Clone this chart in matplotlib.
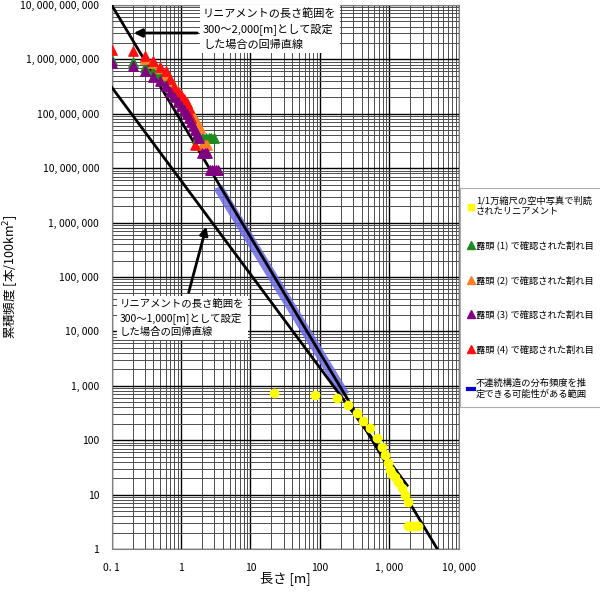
import matplotlib
matplotlib.use("Agg")
import matplotlib.pyplot as plt
from matplotlib.patches import FancyArrowPatch
from matplotlib.ticker import FuncFormatter, LogLocator, NullFormatter
from matplotlib.lines import Line2D

plt.rcParams['font.family'] = ['Noto Sans CJK JP', 'DejaVu Sans']

# ---- data ----
# outcrop fractures, cumulative frequency per 100 km2
x_out1 = [0.1, 0.2, 0.3, 0.4, 0.5, 0.6, 0.7, 0.8, 0.9, 1.0, 1.2, 1.4, 1.7, 1.9, 2.1, 2.3, 2.5, 2.7, 3.0]
y_out1 = [9.8e8, 9.1e8, 7.2e8, 6.2e8, 4.9e8, 4.2e8, 3.3e8, 2.6e8, 2.1e8, 1.7e8, 1.26e8, 8.9e7,
          3.6e7, 3.6e7, 3.6e7, 3.6e7, 3.6e7, 3.6e7, 3.6e7]

x_out2 = [0.3, 0.4, 0.5, 0.6, 0.7, 0.8, 0.9, 1.0, 1.1, 1.2, 1.3, 1.4, 1.5, 1.7, 1.9, 2.0, 2.2, 2.4]
y_out2 = [1.0e9, 8.5e8, 6.8e8, 5.2e8, 4.0e8, 3.2e8, 2.6e8, 2.2e8, 1.9e8, 1.6e8, 1.3e8, 1.1e8,
          9.3e7, 7.1e7, 5.5e7, 2.7e7, 2.7e7, 2.7e7]

x_out3 = [0.1, 0.2, 0.3, 0.4, 0.5, 0.6, 0.7, 0.8, 0.9, 1.0, 1.1, 1.2, 1.3, 1.4, 1.5, 1.6, 1.7,
          1.8, 2.0, 2.2, 2.4, 2.6, 2.8, 3.0, 3.2, 3.4]
y_out3 = [8.5e8, 7.6e8, 6.2e8, 4.8e8, 4.0e8, 3.2e8, 2.5e8, 2.0e8, 1.66e8, 1.4e8, 1.17e8, 1.0e8,
          8.3e7, 7.1e7, 5.9e7, 5.0e7, 4.2e7, 3.6e7, 1.9e7, 1.9e7, 1.9e7, 9.3e6, 9.3e6, 9.3e6,
          9.3e6, 9.3e6]

x_out4 = [0.1, 0.2, 0.3, 0.4, 0.5, 0.6, 0.7, 0.8, 0.9, 1.0, 1.1, 1.2, 1.3, 1.4, 1.6]
y_out4 = [1.48e9, 1.41e9, 1.15e9, 9.3e8, 7.2e8, 6.2e8, 4.4e8, 3.1e8, 2.5e8, 2.2e8, 1.9e8,
          1.6e8, 1.26e8, 8.3e7, 2.7e7]

# lineaments from 1/10,000 aerial photos
x_lin = [22, 85, 178, 256, 347, 417, 525, 670, 795, 875, 950, 1030, 1100, 1220, 1350, 1540,
         1700, 1830, 1850, 2000, 2200, 2400, 2550]
y_lin = [740, 680, 600, 445, 316, 225, 167, 110, 75, 54, 38, 28, 24, 21, 17, 13, 10, 7.3,
         2.7, 2.7, 2.7, 2.7, 2.7]

# regression lines
reg2000_x = [0.1, 4900]
reg2000_y = [1e10, 1]
reg1000_x = [0.1, 1800]
reg1000_y = [3.1e8, 14.8]

# range where the distribution can be estimated
range_x = [3.4, 229]
range_y = [4.5e6, 676]

labels = ["1/1万縮尺の空中写真で判読\nされたリニアメント",
          "露頭 (1) で確認された割れ目",
          "露頭 (2) で確認された割れ目",
          "露頭 (3) で確認された割れ目",
          "露頭 (4) で確認された割れ目",
          "不連続構造の分布頻度を推\n定できる可能性がある範囲"]
colors = ["#ffff00", "#1f8a1f", "#ff7f27", "#800080", "#ff1010", "#0000cc"]

# ---- figure ----
fig = plt.figure(figsize=(6, 5.92), dpi=100)
ax = fig.add_axes([0.186, 0.0726, 0.5787, 0.919])
ax.set_xscale("log")
ax.set_yscale("log")
ax.set_xlim(0.1, 10000)
ax.set_ylim(1, 1e10)

ax.xaxis.set_major_locator(LogLocator(base=10, numticks=20))
ax.yaxis.set_major_locator(LogLocator(base=10, numticks=20))
ax.xaxis.set_minor_locator(LogLocator(base=10, subs=range(2, 10), numticks=20))
ax.yaxis.set_minor_locator(LogLocator(base=10, subs=range(2, 10), numticks=20))
ax.xaxis.set_minor_formatter(NullFormatter())
ax.yaxis.set_minor_formatter(NullFormatter())
ax.grid(which="major", color="black", lw=1.0, zorder=0)
ax.grid(which="minor", color="0.3", lw=0.7, zorder=0)
ax.set_axisbelow(True)
ax.tick_params(which="both", length=0, labelsize=7.5)
ax.tick_params(axis="y", pad=9)
ax.tick_params(axis="x", pad=10)


def fmt(v, pos):
    if v < 1:
        return "0. 1"
    return f"{v:,.0f}".replace(",", ", ")


ax.xaxis.set_major_formatter(FuncFormatter(fmt))
ax.yaxis.set_major_formatter(FuncFormatter(fmt))
for sp in ax.spines.values():
    sp.set_color("0.5")
    sp.set_linewidth(0.8)

ax.plot(range_x, range_y, color="#6b6be6", lw=7, alpha=0.85, solid_capstyle="butt", zorder=2)
ax.plot(reg2000_x, reg2000_y, color="black", lw=2, zorder=3)
ax.plot(reg1000_x, reg1000_y, color="black", lw=2, zorder=3)

ax.scatter(x_lin, y_lin, marker="o", s=36, color=colors[0], zorder=4)
ax.scatter(x_out1, y_out1, marker="^", s=45, color=colors[1], zorder=4)
ax.scatter(x_out2, y_out2, marker="^", s=45, color=colors[2], zorder=4)
ax.scatter(x_out4, y_out4, marker="^", s=45, color=colors[4], zorder=4)
ax.scatter(x_out3, y_out3, marker="^", s=45, color=colors[3], zorder=4)

# annotation boxes with arrows
box = dict(boxstyle="square,pad=0.3", fc="white", ec="none")
fig.text(203 / 600, 1 - 8 / 592, "リニアメントの長さ範囲を\n300～2,000[m]として設定\nした場合の回帰直線",
         fontsize=8, va="top", ha="left", linespacing=1.5, bbox=box, zorder=6)
fig.text(120 / 600, 1 - 299 / 592, "リニアメントの長さ範囲を\n300～1,000[m]として設定\nした場合の回帰直線",
         fontsize=7.5, va="top", ha="left", linespacing=1.35, bbox=box, zorder=6)
fig.add_artist(FancyArrowPatch(
    (200 / 600, 1 - 33 / 592), (131 / 600, 1 - 33 / 592), transform=fig.transFigure,
    arrowstyle="-|>", mutation_scale=12, lw=2, color="black"))
fig.add_artist(FancyArrowPatch(
    (188 / 600, 1 - 295 / 592), (207 / 600, 1 - 224 / 592), transform=fig.transFigure,
    arrowstyle="-|>", mutation_scale=12, lw=2, color="black"))

ax.set_xlabel("長さ [m]", fontsize=9.5, va="center")
ax.xaxis.set_label_coords(0.5, -0.054)
ax.set_ylabel("累積頻度 [本/100km$^2$]", fontsize=9, va="center")
ax.yaxis.set_label_coords(-0.29, 0.5)

handles = [Line2D([], [], marker="s", ls="none", color=colors[0], markersize=4.5)]
handles += [Line2D([], [], marker="^", ls="none", color=c, markersize=5.5) for c in colors[1:5]]
handles += [Line2D([], [], color=colors[5], lw=3)]
leg = fig.legend(handles, labels, loc="upper left", bbox_to_anchor=(460 / 600, 1 - 188 / 592),
                 fontsize=6.7, labelspacing=2.65, handlelength=0.6, handletextpad=0.2,
                 borderpad=0.9, borderaxespad=0, frameon=True, fancybox=False, edgecolor="0.6")
leg.get_frame().set_linewidth(0.8)

fig.savefig("out.png", dpi=100)
